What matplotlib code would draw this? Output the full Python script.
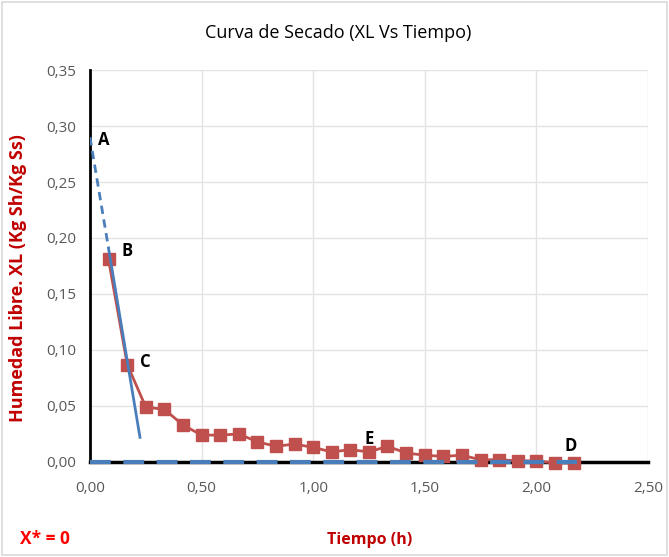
import matplotlib.pyplot as plt
from matplotlib.patches import Rectangle

plt.rcParams['font.family'] = ['Open Sans', 'DejaVu Sans']

# drying curve data (time in h, free moisture XL)
tiempo = [0.083, 0.167, 0.250, 0.333, 0.417, 0.500, 0.583, 0.667, 0.750,
          0.833, 0.917, 1.000, 1.083, 1.167, 1.250, 1.333, 1.417, 1.500,
          1.583, 1.667, 1.750, 1.833, 1.917, 2.000, 2.083, 2.167]
xl = [0.181, 0.087, 0.049, 0.047, 0.033, 0.024, 0.024, 0.025, 0.018,
      0.014, 0.016, 0.013, 0.009, 0.011, 0.009, 0.014, 0.008, 0.006,
      0.005, 0.006, 0.002, 0.002, 0.001, 0.001, -0.001, -0.001]

# tangent line for constant rate period
tang_dash_x = [0.0, 0.083]
tang_dash_y = [0.290, 0.191]
tang_solid_x = [0.083, 0.224]
tang_solid_y = [0.191, 0.022]

# equilibrium moisture X* = 0
eq_x = [0.0, 2.18]
eq_y = [0.0, 0.0]

puntos = {'A': (0.035, 0.283), 'B': (0.14, 0.184), 'C': (0.225, 0.085),
          'E': (1.23, 0.016), 'D': (2.125, 0.010)}

yticks = [0.00, 0.05, 0.10, 0.15, 0.20, 0.25, 0.30, 0.35]
xticks = [0.00, 0.50, 1.00, 1.50, 2.00, 2.50]

fig = plt.figure(figsize=(6.69, 5.57), dpi=100)
fig.patches.append(Rectangle((0.003, 0.003), 0.994, 0.994, transform=fig.transFigure,
                             fill=False, edgecolor='#D9D9D9', linewidth=1.2))
ax = fig.add_axes([0.1345, 0.1706, 0.834, 0.7037])

ax.plot(tiempo, xl, color='#C0504D', linewidth=2, marker='s', markersize=8,
        markerfacecolor='#C0504D', markeredgecolor='#C0504D', zorder=4, clip_on=False)
ax.plot(tang_dash_x, tang_dash_y, color='#4A7EBB', linewidth=2, linestyle=(0, (3, 2)), zorder=5)
ax.plot(tang_solid_x, tang_solid_y, color='#4A7EBB', linewidth=2, zorder=5)
ax.plot(eq_x, eq_y, color='#4A7EBB', linewidth=3, linestyle=(0, (5, 3)), zorder=5, clip_on=False)

for k, (px, py) in puntos.items():
    ax.text(px, py, k, fontsize=12, fontweight='bold', color='black', zorder=6)

ax.set_xlim(0, 2.5)
ax.set_ylim(0, 0.35)
ax.set_xticks(xticks)
ax.set_yticks(yticks)
ax.set_xticklabels([f'{v:.2f}'.replace('.', ',') for v in xticks])
ax.set_yticklabels([f'{v:.2f}'.replace('.', ',') for v in yticks])
ax.tick_params(axis='both', length=0, labelsize=11, labelcolor='#595959')
ax.tick_params(axis='x', pad=14)
ax.tick_params(axis='y', pad=10)
ax.grid(True, color='#E3E3E3', linewidth=1)
ax.set_axisbelow(True)

for s in ['top', 'right']:
    ax.spines[s].set_visible(False)
ax.spines['left'].set_color('black')
ax.spines['left'].set_linewidth(2)
ax.spines['bottom'].set_color('black')
ax.spines['bottom'].set_linewidth(2.5)

fig.text(0.505, 0.94, 'Curva de Secado (XL Vs Tiempo)', ha='center', va='center',
         fontsize=13, color='black')
fig.text(0.027, 0.50, 'Humedad Libre. XL (Kg Sh/Kg Ss)', ha='center', va='center',
         rotation=90, fontsize=13, fontweight='bold', color='#C00000')
fig.text(0.553, 0.03, 'Tiempo (h)', ha='center', va='center',
         fontsize=11.5, fontweight='bold', color='#C00000')
fig.text(0.067, 0.033, 'X* = 0', ha='center', va='center',
         fontsize=12.5, fontweight='bold', color='#FF0000')

fig.savefig('out.png', dpi=100)
